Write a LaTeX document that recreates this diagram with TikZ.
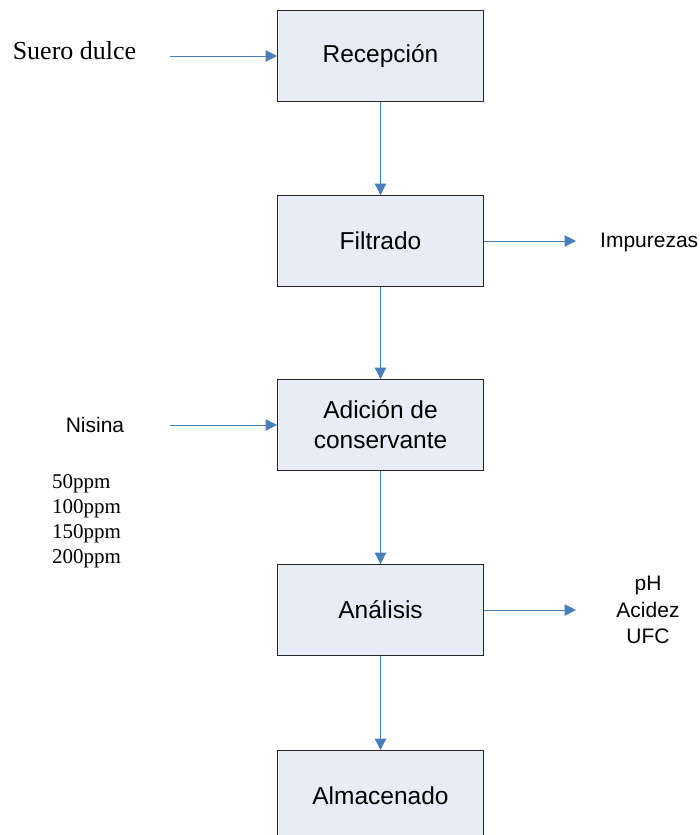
\documentclass[tikz,border=0pt]{standalone}
\usepackage{fontspec}
\setmainfont{Liberation Serif}
\newfontfamily\arialf{Liberation Sans}
\usetikzlibrary{arrows.meta,positioning}
\definecolor{boxfill}{HTML}{E7ECF7}
\definecolor{flowblue}{HTML}{4A7EBB}

\begin{document}
\begin{tikzpicture}[x=1pt,y=-1pt,
  proc/.style={rectangle,draw=black!85,fill=boxfill,line width=0.9pt,minimum width=206pt,minimum height=91pt,align=center,inner sep=0pt,font=\arialf\fontsize{24.5}{30}\selectfont},
  flow/.style={draw=flowblue,line width=1pt,-{Triangle[length=11.5pt,width=11.5pt]}},
  lbl/.style={inner sep=0pt,font=\arialf\fontsize{21}{26.5}\selectfont},
  tms/.style={inner sep=0pt,font=\fontsize{21}{25}\selectfont}]
\useasboundingbox (0,0) rectangle (699,835);

\node[proc] at (380.5,56) (rec) {Recepción};
\node[proc] at (380.5,241) (fil) {Filtrado};
\node[proc] at (380.5,425) (adi) {Adición de\\conservante};
\node[proc] at (380.5,610) (ana) {Análisis};
\node[proc] at (380.5,796) (alm) {Almacenado};

\node[inner sep=0pt,anchor=base,font=\fontsize{26}{30}\selectfont] at (74.5,59) (suero) {Suero dulce};
\node[lbl,anchor=base] at (95,432) (nis) {Nisina};
\node[tms,anchor=west,align=left] at (52,521) (dosis) {50ppm\\100ppm\\150ppm\\200ppm};
\node[lbl,anchor=base west] at (600,247) (imp) {Impurezas};
\node[lbl,align=center] at (648,610) (par) {pH\\Acidez\\UFC};

\coordinate (s0) at (170,56);
\coordinate (n0) at (170,425);
\coordinate (i0) at (576,241);
\coordinate (a0) at (576,610);

\draw[flow] (s0) -- (rec);
\draw[flow] (n0) -- (adi);
\draw[flow] (fil) -- (i0);
\draw[flow] (ana) -- (a0);

\draw[flow] (rec) -- (fil);
\draw[flow] (fil) -- (adi);
\draw[flow] (adi) -- (ana);
\draw[flow] (ana) -- (alm);
\end{tikzpicture}
\end{document}
